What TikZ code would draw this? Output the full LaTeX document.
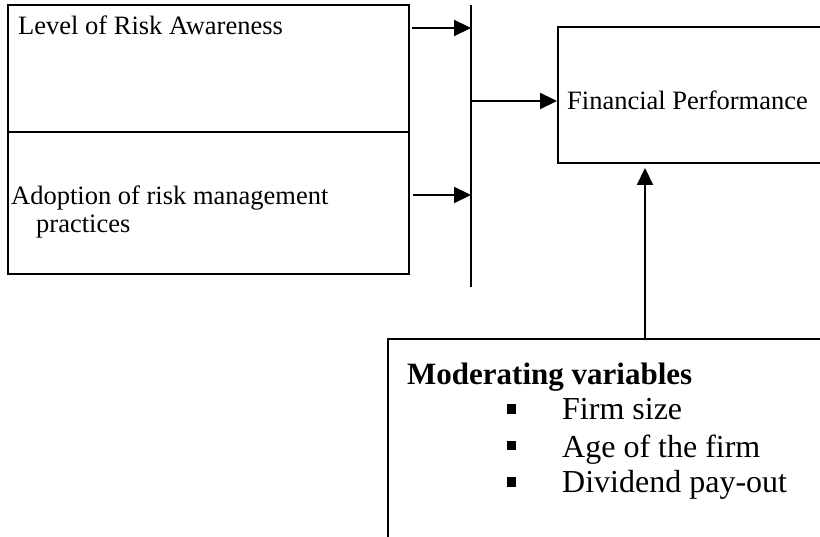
\documentclass[tikz,border=0pt]{standalone}
\usepackage{fontspec}
\setmainfont{Liberation Serif}
\usetikzlibrary{arrows.meta}
\tikzset{
  frame/.style={draw=black, line width=2pt, rectangle, inner sep=0pt},
  lbl/.style={anchor=base west, inner sep=0pt, font=\fontsize{26.5}{30}\selectfont},
  itm/.style={anchor=base west, inner sep=0pt, font=\fontsize{32}{36}\selectfont},
  hdr/.style={anchor=base west, inner sep=0pt, font=\fontsize{31}{36}\selectfont\bfseries},
  bul/.style={fill=black, rectangle, minimum width=9.5pt, minimum height=9.5pt, inner sep=0pt},
  conn/.style={line width=2.2pt, -{Triangle[length=17pt,width=16pt]}},
  bar/.style={line width=2pt}
}
\begin{document}
\begin{tikzpicture}[x=1pt,y=-1pt]
\clip (0,0) rectangle (820,537);
\fill[white] (0,0) rectangle (820,537);
% left boxes
\node[frame, minimum width=401pt, minimum height=127pt] (box1) at (208.5,68.5) {};
\node[frame, minimum width=401pt, minimum height=142pt] (box2) at (208.5,203) {};
\node[lbl] (t1) at (18,35) {Level of Risk Awareness};
\node[lbl] (t2) at (11,205) {Adoption of risk management};
\node[lbl] (t3) at (36,233) {practices};
% vertical bar
\coordinate (bartop) at (471,5);
\coordinate (barbot) at (471,287);
\draw[bar] (bartop) -- (barbot);
% financial performance box (extends beyond right edge)
\node[frame, minimum width=280pt, minimum height=136pt] (fin) at (698,95) {};
\node[lbl] (t4) at (567,110) {Financial Performance};
% moderating box (extends beyond right and bottom edges)
\node[frame, minimum width=450pt, minimum height=220pt] (mod) at (613,449) {};
\node[hdr] (h) at (407,385) {Moderating variables};
\node[bul] (b1) at (511.5,409) {};
\node[bul] (b2) at (511.5,445.5) {};
\node[bul] (b3) at (511.5,482) {};
\node[itm] (i1) at (562,420) {Firm size};
\node[itm] (i2) at (562,457) {Age of the firm};
\node[itm] (i3) at (562,493) {Dividend pay-out};
% connectors
\coordinate (a1s) at (412,28);
\coordinate (a2s) at (413,195);
\coordinate (a3s) at (471,101);
\coordinate (a4s) at (645,339);
\draw[conn] (a1s) -- (a1s -| bartop);
\draw[conn] (a2s) -- (a2s -| bartop);
\draw[conn] (a3s) -- (a3s -| fin.west);
\draw[conn] (a4s) -- ([yshift=-4pt]a4s |- fin.south);
\end{tikzpicture}
\end{document}
